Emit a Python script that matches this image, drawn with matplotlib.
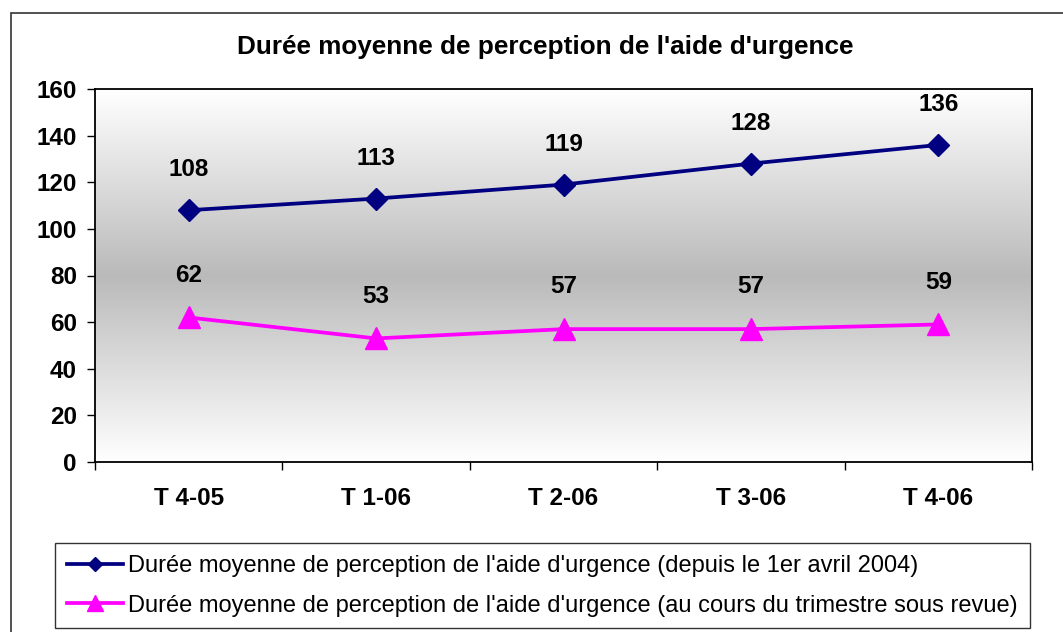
import numpy as np
import matplotlib
matplotlib.use("Agg")
import matplotlib.pyplot as plt
from matplotlib.colors import LinearSegmentedColormap
from matplotlib.patches import Rectangle

plt.rcParams['font.family'] = ['Liberation Sans', 'DejaVu Sans']

# data
categories = ["T 4-05", "T 1-06", "T 2-06", "T 3-06", "T 4-06"]
depuis_2004 = [108, 113, 119, 128, 136]
trimestre = [62, 53, 57, 57, 59]
label_depuis = "Durée moyenne de perception de l'aide d'urgence (depuis le 1er avril 2004)"
label_trim = "Durée moyenne de perception de l'aide d'urgence (au cours du trimestre sous revue)"
title = "Durée moyenne de perception de l'aide d'urgence"

W, H = 1063, 632
fig = plt.figure(figsize=(W / 100, H / 100), dpi=100)
fig.patch.set_facecolor('white')

# outer chart border (cut off at right / bottom like the source)
fig.patches.append(Rectangle((11 / W, -0.05), 1.2, 1 - 13 / H + 0.05,
                             transform=fig.transFigure, fill=False,
                             edgecolor='#333333', lw=1.2))

left, right, top, bottom = 95, 1032, 89, 462
ax = fig.add_axes([left / W, 1 - bottom / H, (right - left) / W, (bottom - top) / H])

# gray gradient: white at top and bottom, gray in the middle
grad = np.abs(np.linspace(-1, 1, 256))[:, None]
cmap = LinearSegmentedColormap.from_list('g', ['#bababa', '#ffffff'])
ax.imshow(grad, aspect='auto', cmap=cmap, extent=[0, 1, 0, 1],
          transform=ax.transAxes, zorder=0, vmin=0, vmax=1)

x = np.arange(len(categories))
ax.plot(x, depuis_2004, color='#000080', lw=2.7, marker='D', ms=11.5,
        label=label_depuis, zorder=3)
ax.plot(x, trimestre, color='#ff00ff', lw=2.7, marker='^', ms=16.5,
        label=label_trim, zorder=3)

for xi, v in zip(x, depuis_2004):
    ax.annotate(str(v), (xi, v), xytext=(0, 29), textcoords='offset points',
                ha='center', va='center', fontsize=17.5, fontweight='bold')
for xi, v in zip(x, trimestre):
    ax.annotate(str(v), (xi, v), xytext=(0, 30.5), textcoords='offset points',
                ha='center', va='center', fontsize=17.5, fontweight='bold')

ax.set_xlim(-0.5, len(categories) - 0.5)
ax.set_ylim(0, 160)
ax.set_yticks(range(0, 161, 20))
ax.set_xticks(np.arange(-0.5, len(categories), 1.0))
ax.set_xticklabels([])
ax.set_xticks(x, minor=True)
ax.set_xticklabels(categories, minor=True)
ax.tick_params(axis='x', which='minor', length=0, pad=18, labelsize=17.5)
ax.tick_params(axis='x', which='major', length=6, direction='out', width=1)
ax.tick_params(axis='y', length=6, direction='out', width=1, pad=7, labelsize=17.5)
for lab in ax.get_yticklabels() + ax.get_xticklabels(minor=True):
    lab.set_fontweight('bold')
for s in ax.spines.values():
    s.set_linewidth(1.3)
    s.set_color('black')

fig.text(545 / W, 1 - 47 / H, title, ha='center', va='center',
         fontsize=18.8, fontweight='bold')

leg = fig.legend(loc='upper left', bbox_to_anchor=(55 / W, 1 - 543 / H),
                 ncol=1, fontsize=17, frameon=True, fancybox=False,
                 handlelength=2.4, handletextpad=0.2, borderpad=0.5,
                 labelspacing=0.75, borderaxespad=0)
leg.get_frame().set_edgecolor('black')
leg.get_frame().set_linewidth(1)
leg.legend_handles[0].set_markersize(7)
leg.legend_handles[1].set_markersize(11)

fig.savefig('out.png', dpi=100)
